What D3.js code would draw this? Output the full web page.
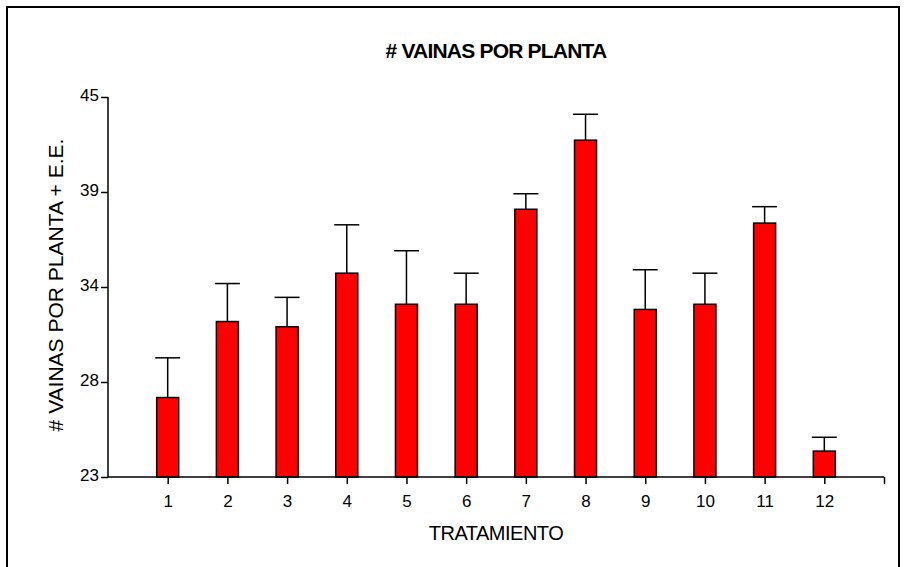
<!DOCTYPE html>
<html><head><meta charset="utf-8">
<script src="https://cdn.jsdelivr.net/npm/d3@7"></script>
<style>body{margin:0;background:#fff}svg{display:block}</style>
</head><body>
<svg id="c" width="908" height="567"></svg>
<script>
const categories = ["1","2","3","4","5","6","7","8","9","10","11","12"];
const means = [27.6, 32.0, 31.7, 34.8, 33.0, 33.0, 38.5, 42.5, 32.7, 33.0, 37.7, 24.5];
const errors = [2.3, 2.2, 1.7, 2.8, 3.1, 1.8, 0.9, 1.5, 2.3, 1.8, 0.95, 0.8];
const yTickValues = [23, 28.5, 34, 39.5, 45];
const yTickLabels = ["23", "28", "34", "39", "45"];

const svg = d3.select("#c");
const L = 108, R = 884, T = 97, B = 477;
const font = "Liberation Sans, Arial, sans-serif";

svg.append("rect").attr("x", 7).attr("y", 7).attr("width", 892).attr("height", 600)
  .attr("fill", "none").attr("stroke", "#000").attr("stroke-width", 2);

const x = d3.scaleLinear().domain([0, 13]).range([L, R]);
const y = d3.scaleLinear().domain([23, 45]).range([B, T]);
const bw = 22, cap = 25;

const g = svg.append("g");
categories.forEach((c, i) => {
  const cx = x(i + 1);
  g.append("line").attr("x1", cx).attr("x2", cx).attr("y1", y(means[i])).attr("y2", y(means[i] + errors[i]))
    .attr("stroke", "#000").attr("stroke-width", 1.5);
  g.append("line").attr("x1", cx - cap / 2).attr("x2", cx + cap / 2)
    .attr("y1", y(means[i] + errors[i])).attr("y2", y(means[i] + errors[i]))
    .attr("stroke", "#000").attr("stroke-width", 1.5);
  g.append("rect").attr("x", cx - bw / 2).attr("y", y(means[i])).attr("width", bw).attr("height", B - y(means[i]))
    .attr("fill", "#ff0000").attr("stroke", "#000").attr("stroke-width", 1.5);
});

const xAxis = d3.axisBottom(x).tickValues(d3.range(1, 14)).tickSize(7).tickPadding(11)
  .tickFormat(d => d <= categories.length ? categories[d - 1] : "");
const xg = svg.append("g").attr("transform", `translate(0,${B})`).call(xAxis);
xg.select(".domain").attr("d", `M${L},0H${R}`).attr("stroke-width", 1.5);
xg.selectAll(".tick line").attr("stroke-width", 1.5);
xg.selectAll("text").attr("font-family", font).attr("font-size", 17).attr("fill", "#000");

const yAxis = d3.axisLeft(y).tickValues(yTickValues).tickSize(7).tickPadding(2)
  .tickFormat((d, i) => yTickLabels[i]);
const yg = svg.append("g").attr("transform", `translate(${L},0)`).call(yAxis);
yg.select(".domain").attr("d", `M0,${T}V${B}`).attr("stroke-width", 1.5);
yg.selectAll(".tick line").attr("stroke-width", 1.5);
yg.selectAll("text").attr("font-family", font).attr("font-size", 17).attr("fill", "#000").attr("dy", "0.2em");

svg.append("text").attr("x", (L + R) / 2).attr("y", 58).attr("text-anchor", "middle")
  .attr("font-family", font).attr("font-size", 21).attr("font-weight", "bold")
  .attr("letter-spacing", "-0.8").text("# VAINAS POR PLANTA");
svg.append("text").attr("x", (L + R) / 2).attr("y", 540).attr("text-anchor", "middle")
  .attr("font-family", font).attr("font-size", 20).attr("letter-spacing", "-0.5").text("TRATAMIENTO");
svg.append("text").attr("transform", `translate(63,285) rotate(-90)`).attr("text-anchor", "middle")
  .attr("font-family", font).attr("font-size", 21).text("# VAINAS POR PLANTA + E.E.");
</script>
</body></html>
